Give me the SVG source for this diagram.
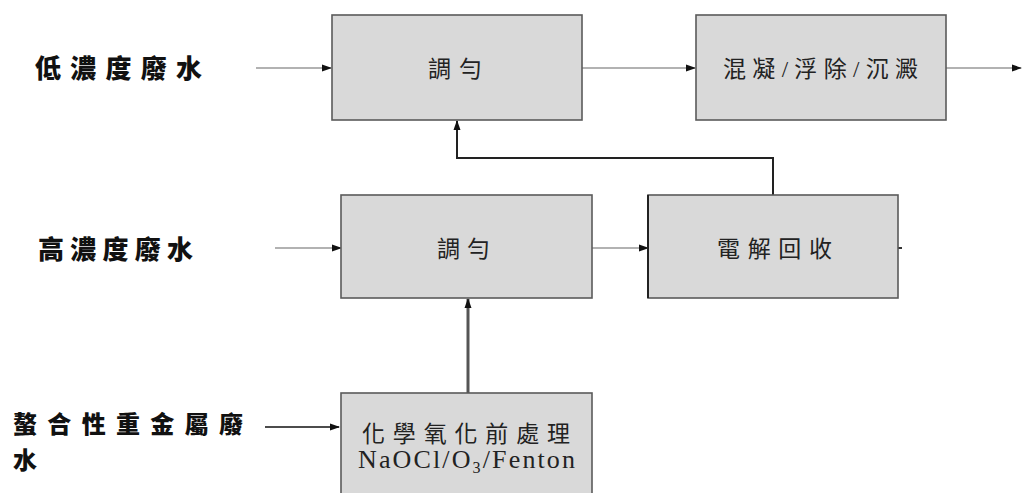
<svg xmlns="http://www.w3.org/2000/svg" width="1024" height="493" viewBox="0 0 1024 493">
  <style>
    .box { fill: #d9d9d9; stroke: #5a5a5a; stroke-width: 1.6; }
    .lbl { font-family: "Noto Sans CJK TC", "Noto Sans CJK SC", sans-serif; font-weight: 900; font-size: 26px; fill: #111; }
    .txt { font-family: "Liberation Serif", "Noto Sans CJK TC", serif; font-size: 23px; fill: #222; }
    .flow { fill: none; stroke: #999; stroke-width: 1.6; }
    .dark { fill: none; stroke: #222; stroke-width: 2; }
  </style>
  <defs>
    <marker id="ah" markerUnits="userSpaceOnUse" markerWidth="10" markerHeight="8" refX="9" refY="4" orient="auto">
      <path d="M0,0.5 L10,4 L0,7.5 Z" fill="#111"/>
    </marker>
  </defs>
  <rect width="1024" height="493" fill="#fff"/>

  <g id="labels">
    <text class="lbl" x="35" y="78" textLength="167" lengthAdjust="spacing">低濃度廢水</text>
    <text class="lbl" x="38" y="259" textLength="155" lengthAdjust="spacing">高濃度廢水</text>
    <text class="lbl" x="13" y="433" style="font-size:24px" textLength="230" lengthAdjust="spacing">螯合性重金屬廢</text>
    <text class="lbl" x="13" y="469" style="font-size:24px">水</text>
  </g>

  <g id="connectors">
    <line class="flow" x1="256" y1="68" x2="331" y2="68" marker-end="url(#ah)"/>
    <line class="flow" x1="582" y1="68" x2="695" y2="68" marker-end="url(#ah)"/>
    <line class="flow" x1="946" y1="68" x2="1021" y2="68" marker-end="url(#ah)"/>
    <line class="flow" x1="275" y1="248" x2="341" y2="248" marker-end="url(#ah)"/>
    <line class="flow" x1="592" y1="248" x2="648" y2="248" marker-end="url(#ah)"/>
    <line x1="898" y1="248" x2="902" y2="248" stroke="#333" stroke-width="2"/>
    <polyline class="dark" points="773,195 773,158 457,158 457,121" marker-end="url(#ah)"/>
    <line x1="468" y1="393" x2="468" y2="299" stroke="#555" stroke-width="3" marker-end="url(#ah)"/>
    <line x1="265" y1="427" x2="339" y2="427" stroke="#111" stroke-width="1.6" marker-end="url(#ah)"/>
  </g>

  <g id="node-mix1">
    <rect class="box" x="332" y="15" width="250" height="105"/>
    <text class="txt" x="428" y="77" textLength="54" lengthAdjust="spacing">調勻</text>
  </g>
  <g id="node-coag">
    <rect class="box" x="696" y="15" width="250" height="105"/>
    <text class="txt" x="723" y="77" textLength="195" lengthAdjust="spacing">混凝/浮除/沉澱</text>
  </g>
  <g id="node-mix2">
    <rect class="box" x="341" y="195" width="251" height="103"/>
    <text class="txt" x="437" y="257" textLength="53" lengthAdjust="spacing">調勻</text>
  </g>
  <g id="node-electro">
    <rect class="box" x="648" y="195" width="250" height="103"/>
    <line x1="648" y1="195" x2="648" y2="298" stroke="#222" stroke-width="2"/>
    <text class="txt" x="717" y="257" textLength="115" lengthAdjust="spacing">電解回收</text>
  </g>
  <g id="node-oxid">
    <rect class="box" x="341" y="393" width="251" height="110"/>
    <text class="txt" x="362" y="442" textLength="208" lengthAdjust="spacing">化學氧化前處理</text>
    <text x="358" y="468" font-family="Liberation Serif, serif" font-size="26" fill="#222" textLength="217" lengthAdjust="spacing">NaOCl/O<tspan font-size="16" dy="5">3</tspan><tspan dy="-5">/Fenton</tspan></text>
  </g>
</svg>
